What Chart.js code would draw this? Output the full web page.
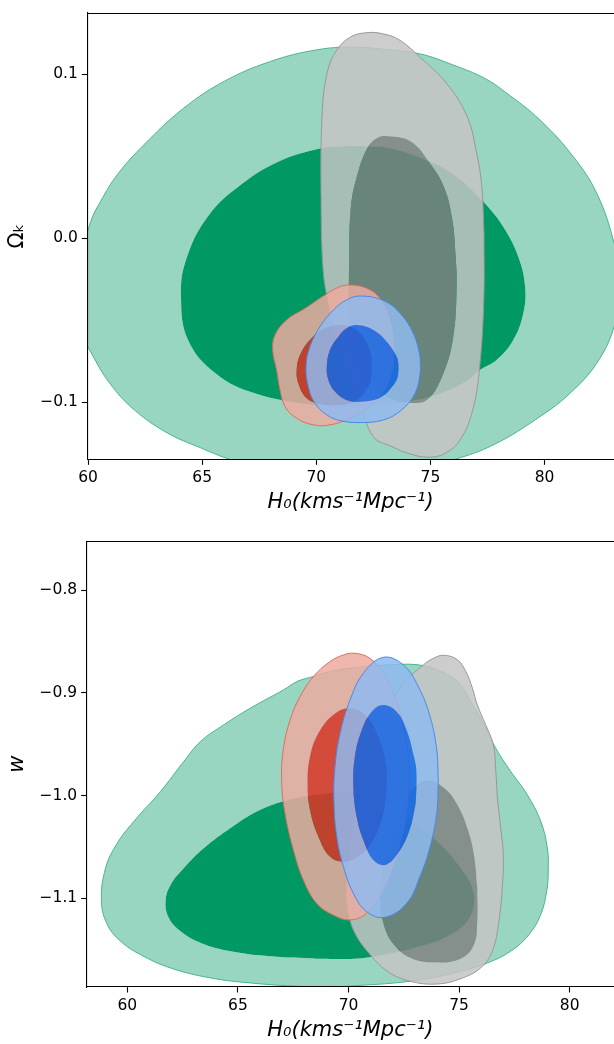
<!DOCTYPE html>
<html>
<head>
<meta charset="utf-8">
<script src="https://cdn.jsdelivr.net/npm/chart.js@4.4.0/dist/chart.umd.min.js"></script>
<style>
html,body{margin:0;padding:0;background:#fff;width:614px;height:1044px;overflow:hidden}
canvas{position:absolute;left:0}
#c1{top:0}
#c2{top:520px}
</style>
</head>
<body>
<canvas id="c1" width="614" height="520"></canvas>
<canvas id="c2" width="614" height="524"></canvas>
<script>
// ---------- tick values ----------
const h0Ticks = [60, 65, 70, 75, 80];
const okTicks = [-0.1, 0.0, 0.1];
const wTicks = [-1.1, -1.0, -0.9, -0.8];

// ---------- top panel: (H0, Omega_k) contour vertices ----------
const okGreenOuter = [[59.75,-0.035],[59.85,-0.005],[60.12,0.0104],[60.55,0.0226],[61.28,0.0388],[62.45,0.0571],[64.2,0.0795],[65.96,0.0957],[68.0,0.1079],[70.04,0.115],[71.65,0.1166],[73.1,0.115],[74.57,0.1124],[76.0,0.1057],[77.35,0.0978],[78.3,0.089],[79.8,0.0722],[81.26,0.0498],[82.29,0.0274],[83.05,-0.003],[83.35,-0.028],[83.05,-0.0539],[82.29,-0.0762],[81.12,-0.0945],[79.8,-0.1088],[77.79,-0.1258],[76.03,-0.135],[74.5,-0.140],[70.0,-0.143],[67.5,-0.139],[66.25,-0.135],[64.93,-0.1278],[63.47,-0.1187],[62.01,-0.1045],[60.99,-0.0892],[60.26,-0.073],[59.85,-0.06]];
const okGreenInner = [[71.59,0.0565],[72.3,0.0561],[73.3,0.0548],[74.98,0.0467],[76.15,0.0376],[77.32,0.0223],[78.19,0.0071],[78.85,-0.0112],[79.15,-0.0295],[79.07,-0.0457],[78.63,-0.062],[77.9,-0.0742],[77.17,-0.0803],[76.44,-0.0884],[74.98,-0.0966],[73.4,-0.1005],[71.59,-0.1027],[69.87,-0.1016],[67.3,-0.0945],[65.58,-0.0823],[64.38,-0.062],[64.07,-0.0356],[64.29,-0.0132],[65.24,0.0132],[66.78,0.0335],[68.5,0.0477],[70.21,0.0549],[70.9,0.056]];
const okGrayOuter = [[77.35,0.003],[77.34,-0.0376],[77.16,-0.0783],[76.85,-0.105],[76.3,-0.123],[75.6,-0.1315],[74.9,-0.1335],[74.1,-0.1315],[73.3,-0.127],[72.5,-0.121],[71.92,-0.1006],[71.33,-0.0803],[70.89,-0.06],[70.53,-0.0397],[70.3,-0.0193],[70.21,0.0234],[70.25,0.0741],[70.47,0.1006],[70.9,0.1148],[71.5,0.1228],[72.2,0.1254],[72.9,0.1248],[73.65,0.1209],[74.68,0.1087],[75.71,0.0945],[76.6,0.0745],[77.03,0.0518],[77.25,0.0315]];
const okGrayInner = [[71.43,-0.0222],[71.51,0.0185],[71.8,0.0388],[72.24,0.0551],[72.67,0.0612],[73.12,0.0623],[74.14,0.0591],[74.98,0.0457],[75.6,0.031],[75.95,0.012],[76.1,-0.01],[76.15,-0.0295],[76.0,-0.06],[75.57,-0.0823],[74.87,-0.0984],[74.14,-0.1004],[73.41,-0.0984],[72.38,-0.0892],[71.65,-0.073],[71.43,-0.0526]];
const okRedOuter = [[73.41,-0.0641],[73.4,-0.072],[73.35,-0.0803],[73.01,-0.0925],[72.35,-0.1027],[71.48,-0.1098],[70.6,-0.1138],[69.87,-0.1138],[69.14,-0.1098],[68.63,-0.1027],[68.41,-0.0925],[68.26,-0.0803],[68.09,-0.0681],[68.19,-0.059],[68.7,-0.0498],[69.51,-0.0427],[70.38,-0.0346],[70.97,-0.0299],[71.48,-0.0285],[72.21,-0.0305],[72.79,-0.0366],[73.2,-0.0478],[73.36,-0.057]];
const okRedInner = [[72.43,-0.0783],[72.4,-0.085],[72.28,-0.0905],[71.77,-0.0986],[71.04,-0.1016],[70.16,-0.101],[69.58,-0.0976],[69.21,-0.0884],[69.14,-0.0803],[69.29,-0.0711],[69.72,-0.062],[70.38,-0.0549],[71.11,-0.0529],[71.77,-0.0559],[72.21,-0.064],[72.4,-0.072]];
const okBlueOuter = [[74.56,-0.0765],[74.55,-0.0823],[74.33,-0.0945],[73.74,-0.1047],[72.94,-0.1108],[71.92,-0.1124],[71.04,-0.1112],[70.46,-0.1077],[69.94,-0.1006],[69.65,-0.0905],[69.55,-0.0783],[69.72,-0.0661],[70.16,-0.0539],[70.75,-0.0437],[71.33,-0.0376],[71.92,-0.0352],[72.94,-0.038],[73.67,-0.0457],[74.25,-0.058],[74.52,-0.0701]];
const okBlueInner = [[73.6,-0.0803],[73.56,-0.0848],[73.38,-0.0895],[72.87,-0.0966],[72.06,-0.0996],[71.33,-0.0986],[70.82,-0.0935],[70.53,-0.0864],[70.46,-0.0783],[70.6,-0.0681],[70.97,-0.06],[71.33,-0.0549],[71.77,-0.0529],[72.5,-0.0559],[73.08,-0.063],[73.52,-0.0722],[73.59,-0.076]];

// ---------- bottom panel: (H0, w) contour vertices ----------
const wGreenOuter = [[69.5,-1.1862],[67.84,-1.1858],[65.58,-1.1825],[63.77,-1.1776],[61.96,-1.1679],[60.6,-1.1549],[59.7,-1.1419],[59.1,-1.1257],[58.83,-1.103],[59.02,-1.0705],[59.55,-1.0462],[60.3,-1.025],[61.51,-0.9958],[62.56,-0.9666],[63.32,-0.9471],[64.37,-0.9309],[65.58,-0.9146],[67.08,-0.8968],[67.69,-0.8887],[68.44,-0.8838],[68.89,-0.8806],[69.8,-0.8767],[72.06,-0.8724],[73.41,-0.8734],[74.32,-0.8806],[75.0,-0.8903],[75.52,-0.9081],[76.13,-0.9309],[76.65,-0.9536],[77.33,-0.9763],[78.08,-0.999],[78.69,-1.025],[78.99,-1.051],[79.03,-1.0737],[78.96,-1.0932],[78.69,-1.1159],[78.16,-1.1354],[77.33,-1.1516],[76.28,-1.163],[75.07,-1.1711],[73.56,-1.1783],[72.06,-1.1825],[70.55,-1.1848]];
const wGreenInner = [[68.59,-1.1588],[70.25,-1.1588],[71.61,-1.1549],[73.26,-1.1468],[74.62,-1.1354],[75.37,-1.1224],[75.67,-1.1062],[75.6,-1.09],[75.07,-1.0705],[74.17,-1.0478],[72.81,-1.025],[71.3,-1.0088],[70.25,-0.9974],[68.59,-0.999],[67.08,-1.0055],[65.88,-1.0152],[64.67,-1.0315],[63.47,-1.051],[62.56,-1.0704],[61.96,-1.0867],[61.73,-1.1029],[61.88,-1.1192],[62.41,-1.1322],[63.32,-1.1435],[64.67,-1.1516],[66.48,-1.1565]];
const wGrayOuter = [[76.73,-1.0023],[76.88,-1.0315],[77.0,-1.0575],[76.95,-1.09],[76.8,-1.1224],[76.5,-1.1516],[75.97,-1.1679],[75.07,-1.1783],[74.02,-1.1835],[72.81,-1.1809],[71.76,-1.1711],[70.85,-1.1516],[70.25,-1.1322],[69.98,-1.1127],[69.92,-1.1017],[69.95,-1.0757],[70.14,-1.0432],[70.44,-1.0108],[70.75,-0.9783],[71.12,-0.9491],[71.73,-0.9198],[72.48,-0.8906],[73.38,-0.8728],[73.87,-0.8659],[74.32,-0.8633],[74.92,-0.8676],[75.3,-0.8789],[75.6,-0.8952],[75.82,-0.9114],[76.2,-0.9309],[76.55,-0.9504],[76.65,-0.9731]];
const wGrayInner = [[75.82,-1.09],[75.82,-1.1224],[75.67,-1.1452],[75.07,-1.1588],[73.87,-1.1624],[72.81,-1.1581],[72.06,-1.1452],[71.6,-1.1257],[71.45,-1.0997],[71.53,-1.0737],[71.83,-1.0478],[72.21,-1.0218],[72.81,-0.9958],[73.56,-0.9854],[74.32,-0.9926],[74.92,-1.0088],[75.37,-1.0315],[75.67,-1.0575]];
const wRedOuter = [[72.75,-0.988],[72.66,-1.0172],[72.4,-1.0432],[72.03,-1.0692],[71.5,-1.0951],[70.82,-1.1146],[70.07,-1.1211],[69.31,-1.1163],[68.56,-1.1049],[67.96,-1.0822],[67.51,-1.053],[67.13,-1.0172],[66.98,-0.988],[67.05,-0.9555],[67.36,-0.9263],[67.81,-0.9036],[68.41,-0.8841],[69.16,-0.8695],[69.77,-0.863],[70.29,-0.8614],[70.97,-0.8663],[71.57,-0.8809],[72.1,-0.9036],[72.48,-0.9328],[72.71,-0.962]];
const wRedInner = [[71.73,-0.9913],[71.58,-1.0172],[71.12,-1.0432],[70.44,-1.0594],[69.77,-1.0643],[69.16,-1.0594],[68.64,-1.04],[68.26,-1.014],[68.15,-0.988],[68.26,-0.962],[68.64,-0.9393],[69.31,-0.9215],[70.07,-0.915],[70.82,-0.9231],[71.35,-0.9426],[71.7,-0.9685]];
const wBlueOuter = [[74.06,-0.9848],[73.99,-1.0172],[73.69,-1.0497],[73.23,-1.0789],[72.63,-1.1049],[71.65,-1.1185],[70.82,-1.113],[70.22,-1.0951],[69.77,-1.0692],[69.47,-1.04],[69.34,-1.0042],[69.39,-0.9718],[69.62,-0.9393],[70.07,-0.9068],[70.67,-0.8809],[71.57,-0.8653],[72.48,-0.8727],[73.16,-0.8939],[73.69,-0.9231],[73.99,-0.9555]];
const wBlueInner = [[73.08,-0.9848],[73.06,-0.9975],[73.01,-1.0107],[72.71,-1.0367],[72.18,-1.0578],[71.65,-1.0675],[71.12,-1.0627],[70.67,-1.0432],[70.37,-1.0205],[70.22,-0.9913],[70.29,-0.962],[70.6,-0.9361],[71.05,-0.9182],[71.57,-0.9117],[72.18,-0.9182],[72.63,-0.9361],[72.96,-0.962],[73.06,-0.973]];

// ---------- styling ----------
const STY = {
  green: {band: 'rgb(153,214,194)', core: 'rgb(0,153,100)', edge: 'rgba(60,175,135,0.9)'},
  gray:  {band: 'rgba(196,196,196,0.85)', core: 'rgba(128,128,128,0.82)', edge: 'rgba(150,150,150,0.95)'},
  red:   {band: 'rgba(236,170,160,0.85)', core: 'rgba(223,50,35,0.85)', edge: 'rgba(222,105,92,0.95)'},
  blue:  {band: 'rgba(143,186,238,0.85)', core: 'rgba(15,105,235,0.85)', edge: 'rgba(70,135,230,0.95)'}
};
const TENSION = 0.4;
Chart.defaults.font.family = 'DejaVu Sans';

function signedArea(p) {
  let s = 0;
  for (let i = 0; i < p.length; i++) { const a = p[i], b = p[(i + 1) % p.length]; s += a[0] * b[1] - b[0] * a[1]; }
  return s;
}
// band = outer region minus inner region (joined by a zero-width cut), core = inner region
function buildRing(outer, inner) {
  let c = inner.slice();
  if (Math.sign(signedArea(outer)) === Math.sign(signedArea(c))) c = [c[0], ...c.slice(1).reverse()];
  const o = outer[0];
  const coreSeq = [c[0], c[0], ...c.slice(1), c[0], c[0]];
  const edgeSeq = [...outer, o, o];
  const bandSeq = [...edgeSeq, ...coreSeq, o, o];
  const xy = a => a.map(p => ({x: p[0], y: p[1]}));
  return {band: xy(bandSeq), core: xy(coreSeq), edge: xy(edgeSeq)};
}
function datasets(sets) {
  const ds = [];
  for (const s of sets) {
    const r = buildRing(s.outer, s.inner);
    const st = STY[s.color];
    ds.push({data: r.band, fill: 'shape', backgroundColor: st.band, borderWidth: 0, pointRadius: 0, tension: TENSION});
    ds.push({data: r.core, fill: 'shape', backgroundColor: st.core, borderWidth: 0, pointRadius: 0, tension: TENSION});
    ds.push({data: r.edge, fill: false, borderColor: st.edge, borderWidth: 1, pointRadius: 0, tension: TENSION});
  }
  ds.forEach((d, i) => { d.order = ds.length - i; });
  return ds;
}
const frameTop = {
  id: 'frameTop',
  afterDatasetsDraw(chart) {
    const {ctx, chartArea: a} = chart;
    ctx.save(); ctx.strokeStyle = '#000'; ctx.lineWidth = 1.1;
    ctx.beginPath(); ctx.moveTo(a.left, Math.round(a.top) + 0.5); ctx.lineTo(a.right, Math.round(a.top) + 0.5); ctx.stroke();
    ctx.restore();
  }
};
const minus = v => (Math.abs(v) < 1e-9 ? '0.0' : (v < 0 ? '\u2212' : '') + Math.abs(v).toFixed(1));

function makeChart(id, sets, xr, yr, yTicks, yTitle, yTitleStyle, padTop, axisW, axisH, titlePadBottom) {
  const tickFont = {family: 'DejaVu Sans', size: 15.5};
  const titleFont = {family: 'DejaVu Sans', size: 21};
  new Chart(document.getElementById(id), {
    type: 'line',
    data: {datasets: datasets(sets)},
    options: {
      responsive: false, animation: false, events: [],
      layout: {padding: {top: padTop, left: 0, right: 0, bottom: 0}},
      plugins: {legend: {display: false}, tooltip: {enabled: false}},
      scales: {
        x: {
          type: 'linear', min: xr[0], max: xr[1],
          afterBuildTicks: s => { s.ticks = h0Ticks.map(v => ({value: v})); },
          afterFit: s => { s.height = axisH; s.paddingLeft = 0; s.paddingRight = 0; },
          ticks: {font: tickFont, color: '#000', padding: 4, maxRotation: 0, autoSkip: false, callback: v => String(v)},
          grid: {display: true, drawOnChartArea: false, drawTicks: true, tickLength: 5.5, tickWidth: 1.1, tickColor: '#000'},
          border: {display: true, color: '#000', width: 1.1, z: 1},
          title: {display: true, text: 'H\u2080(kms\u207B\u00B9Mpc\u207B\u00B9)', color: '#000',
                  font: Object.assign({style: 'italic'}, titleFont), padding: {top: 0, bottom: titlePadBottom}}
        },
        y: {
          type: 'linear', min: yr[0], max: yr[1],
          afterBuildTicks: s => { s.ticks = yTicks.map(v => ({value: v})); },
          afterFit: s => { s.width = axisW; s.paddingTop = 0; s.paddingBottom = 0; },
          ticks: {font: tickFont, color: '#000', padding: 4, autoSkip: false, callback: v => minus(v)},
          grid: {display: true, drawOnChartArea: false, drawTicks: true, tickLength: 5.5, tickWidth: 1.1, tickColor: '#000'},
          border: {display: true, color: '#000', width: 1.1, z: 1},
          title: {display: true, text: yTitle, color: '#000',
                  font: Object.assign({style: yTitleStyle}, titleFont), padding: {top: 5, bottom: 0}}
        }
      }
    },
    plugins: [frameTop]
  });
}

makeChart('c1', [
  {color: 'green', outer: okGreenOuter, inner: okGreenInner},
  {color: 'gray', outer: okGrayOuter, inner: okGrayInner},
  {color: 'red', outer: okRedOuter, inner: okRedInner},
  {color: 'blue', outer: okBlueOuter, inner: okBlueInner}
], [59.965, 83.045], [-0.1348, 0.1376], okTicks, '\u03A9\u2096', 'normal', 12.7, 87.3, 60.7, 4.6);

makeChart('c2', [
  {color: 'green', outer: wGreenOuter, inner: wGreenInner},
  {color: 'gray', outer: wGrayOuter, inner: wGrayInner},
  {color: 'red', outer: wRedOuter, inner: wRedInner},
  {color: 'blue', outer: wBlueOuter, inner: wBlueInner}
], [58.165, 82.003], [-1.1864, -0.7523], wTicks, 'w', 'italic', 21.3, 86.7, 57, 1);
</script>
</body>
</html>
